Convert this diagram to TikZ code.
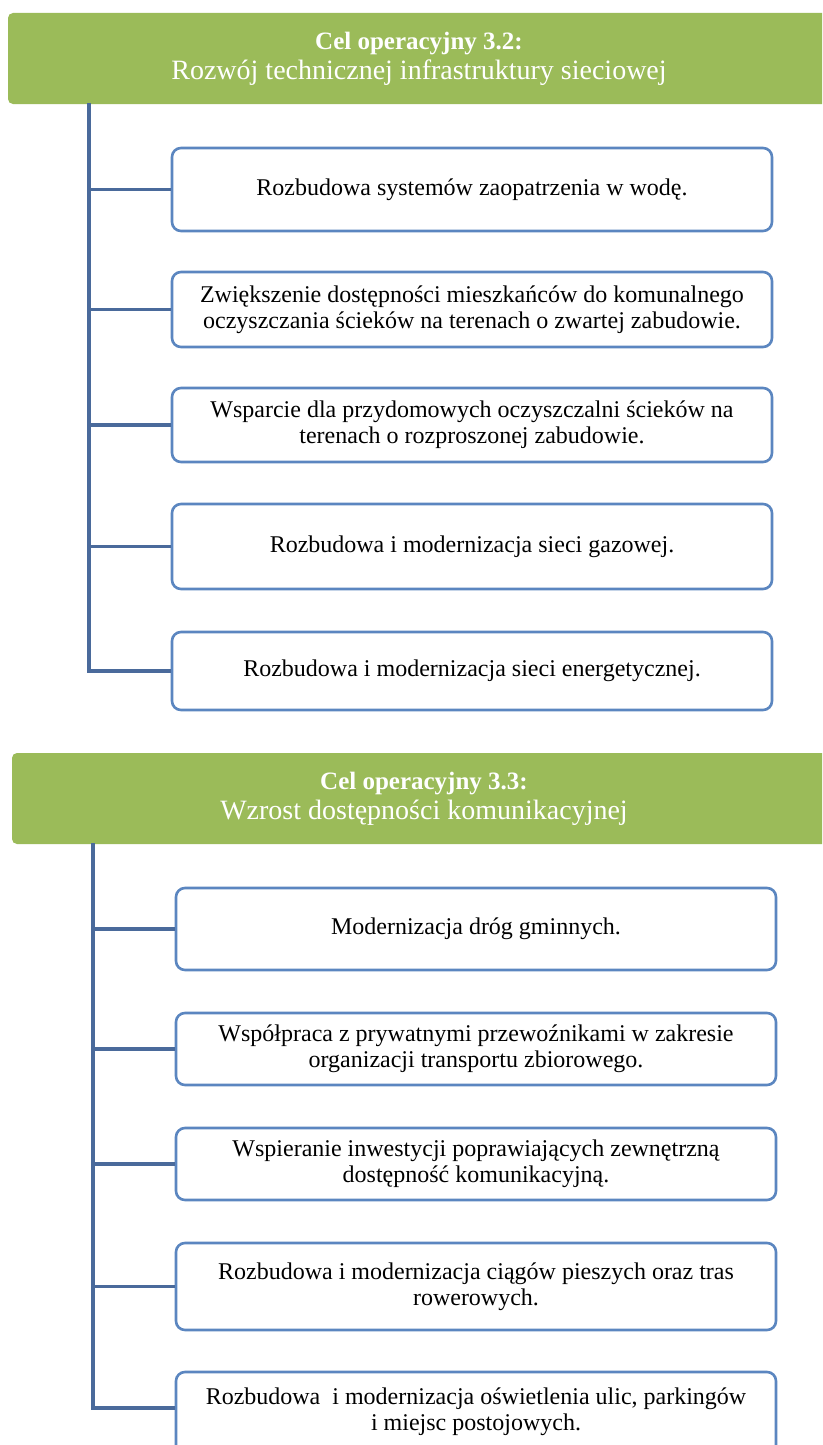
\documentclass[tikz,border=0pt]{standalone}
\usepackage{fontspec}
\usetikzlibrary{calc}
\setmainfont{Liberation Serif}
\definecolor{hdrgreen}{HTML}{9BBB59}
\definecolor{connblue}{HTML}{4A6A9B}
\definecolor{boxblue}{HTML}{5B86C0}
\newcommand{\hdrbold}[1]{{\fontsize{25}{31}\selectfont\bfseries #1}}
\begin{document}
\begin{tikzpicture}[x=1pt,y=-1pt,
  header/.style={fill=hdrgreen, draw=none, rounded corners=5pt, text=white,
    align=center, font=\fontsize{28}{30}\selectfont, inner sep=0pt},
  goalbox/.style={draw=boxblue, line width=2.6pt, rounded corners=9pt, fill=white,
    minimum width=600pt, align=center, inner sep=0pt,
    font=\fontsize{24}{26}\selectfont},
  conn/.style={draw=connblue, line width=3.5pt}]
\useasboundingbox (0,0) rectangle (822,1445);
\fill[white] (0,0) rectangle (822,1445);
\clip (0,0) rectangle (822,1445);

% Section 1
\node[header, minimum width=822pt, minimum height=91pt] (h1) at (419,58.5)
  {\hdrbold{Cel operacyjny 3.2:}\\Rozwój technicznej infrastruktury sieciowej};
\coordinate (t1) at (89,103);
\node[goalbox, minimum height=83pt] (b1) at (472,189.5) {Rozbudowa systemów zaopatrzenia w wodę.};
\node[goalbox, minimum height=75pt] (b2) at (472,309.5) {Zwiększenie dostępności mieszkańców do komunalnego\\oczyszczania ścieków na terenach o zwartej zabudowie.};
\node[goalbox, minimum height=74pt] (b3) at (472,425) {Wsparcie dla przydomowych oczyszczalni ścieków na\\terenach o rozproszonej zabudowie.};
\node[goalbox, minimum height=85pt] (b4) at (472,546.5) {Rozbudowa i modernizacja sieci gazowej.};
\node[goalbox, minimum height=78pt] (b5) at (472,671) {Rozbudowa i modernizacja sieci energetycznej.};
\foreach \b in {b1,b2,b3,b4,b5} \draw[conn] (t1) |- (\b.west);

% Section 2
\node[header, minimum width=824pt, minimum height=91pt] (h2) at (424,798.5)
  {\hdrbold{Cel operacyjny 3.3:}\\Wzrost dostępności komunikacyjnej};
\coordinate (t2) at (93,843);
\node[goalbox, minimum height=82pt] (b6) at (476,929) {Modernizacja dróg gminnych.};
\node[goalbox, minimum height=72pt] (b7) at (476,1049) {Współpraca z prywatnymi przewoźnikami w zakresie\\organizacji transportu zbiorowego.};
\node[goalbox, minimum height=72pt] (b8) at (476,1164) {Wspieranie inwestycji poprawiających zewnętrzną\\dostępność komunikacyjną.};
\node[goalbox, minimum height=87pt] (b9) at (476,1286.5) {Rozbudowa i modernizacja ciągów pieszych oraz tras\\rowerowych.};
\node[goalbox, minimum height=100pt] (b10) at (476,1422) {Rozbudowa\ \ i modernizacja oświetlenia ulic, parkingów\\i miejsc postojowych.\\\mbox{}};
\foreach \b in {b6,b7,b8,b9} \draw[conn] (t2) |- (\b.west);
\draw[conn] (t2) |- ($(b10.west)+(0,-14)$);
\end{tikzpicture}
\end{document}
